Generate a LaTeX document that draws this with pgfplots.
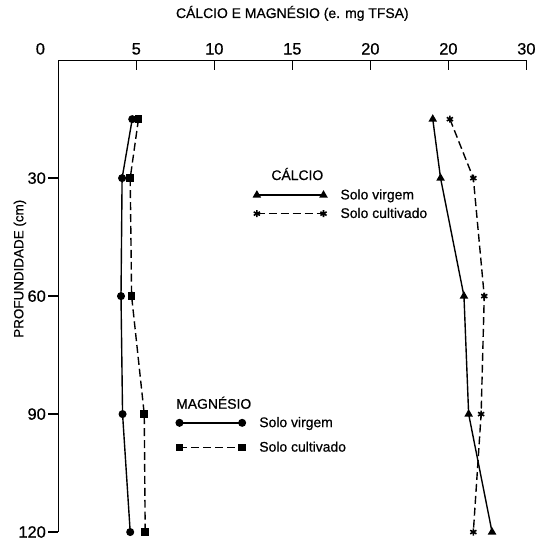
\documentclass[border=0pt]{standalone}
\usepackage{fontspec}
\setmainfont{Liberation Sans}[FakeBold=0.6]
\usepackage{pgfplots}
\pgfplotsset{compat=1.18}

% depth (cm) vs content
\pgfplotstableread{
depth ca_v ca_c mg_v mg_c
15  24.0 25.1 4.74 5.14
30  24.5 26.6 4.09 4.61
60  26.0 27.3 4.02 4.70
90  26.3 27.1 4.12 5.51
120 27.8 26.6 4.61 5.57
}\solo

\pgfplotsset{
  base/.style={
    scale only axis, width=470.7pt, height=474.5pt,
    xmin=0, xmax=30, ymin=0, ymax=120, y dir=reverse,
    clip=false,
    legend cell align=left,
    legend image code/.code={\draw[##1] plot coordinates {(0pt,0pt) (67pt,0pt)};},
  },
  shortleg/.style={
    legend image code/.code={\draw[##1] plot coordinates {(0pt,0pt) (63pt,0pt)};},
  },
  sv/.style={black, line width=1.4pt},
  sc/.style={black, line width=1.4pt, dash pattern=on 8pt off 4pt},
}

\begin{document}
\begin{tikzpicture}
\path[use as bounding box] (-58.6pt,-9pt) rectangle (481.4pt,535pt);

% calcio + axes
\begin{axis}[base,
    axis x line=top, axis y line=left,
    axis line style={-, line width=1.3pt},
    tick align=inside, major tick length=10pt,
    tick style={black, line width=1.3pt},
    ytick style={xshift=-10pt},
    xtick={0,5,10,15,20,25,30},
    xticklabels={\kern-18pt\raisebox{-8pt}{0}\kern18pt,5,10,15,20,20,30},
    ytick={30,60,90,120},
    ticklabel style={font=\fontsize{16.5}{16.5}\selectfont},
    xticklabel style={yshift=2pt},
    /pgf/number format/assume math mode=true,
    yticklabel style={xshift=-9pt},
    xlabel={CÁLCIO E MAGNÉSIO (e. mg TFSA)},
    xlabel style={at={(axis description cs:0.5,1)}, anchor=south, yshift=36pt, font=\fontsize{14}{14}\selectfont},
    ylabel={PROFUNDIDADE (cm)},
    ylabel style={at={(axis description cs:-0.082,0.558)}, anchor=center, font=\fontsize{13.5}{14}\selectfont},
    legend style={at={(axis description cs:0.4172,0.6944)}, anchor=west, draw=none, fill=none,
      inner sep=0pt, row sep=3pt, column sep=12pt, font=\fontsize{14}{16}\selectfont},
  ]
  \addplot[sv, mark=triangle*, mark size=3.6pt, mark options={solid}] table[x=ca_v, y=depth] {\solo};
  \addlegendentry{Solo virgem}
  \addplot[sc, mark=asterisk, mark size=3.6pt, mark options={solid, line width=1.6pt}] table[x=ca_c, y=depth] {\solo};
  \addlegendentry{Solo cultivado}
  \node[anchor=center, font=\fontsize{14}{16}\selectfont] at (axis description cs:0.5107,0.7587) {CÁLCIO};
  \node[anchor=west, inner sep=0pt, font=\fontsize{14}{16}\selectfont] at (axis description cs:0.2515,0.274) {MAGNÉSIO};
\end{axis}

% magnesio
\begin{axis}[base, hide axis, shortleg,
    legend style={at={(axis description cs:0.2515,0.2055)}, anchor=west, draw=none, fill=none,
      inner sep=0pt, row sep=9pt, column sep=12pt, font=\fontsize{14}{16}\selectfont},
  ]
  \addplot[sv, mark=*, mark size=3.3pt, mark options={solid}] table[x=mg_v, y=depth] {\solo};
  \addlegendentry{Solo virgem}
  \addplot[sc, mark=square*, mark size=3.1pt, mark options={solid}] table[x=mg_c, y=depth] {\solo};
  \addlegendentry{Solo cultivado}
\end{axis}
\end{tikzpicture}
\end{document}
